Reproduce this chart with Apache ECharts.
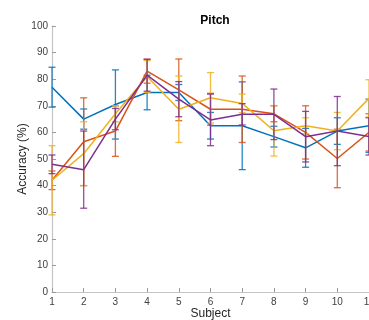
<!DOCTYPE html>
<html>
<head>
<meta charset="utf-8">
<script src="https://cdn.jsdelivr.net/npm/echarts@6/dist/echarts.min.js"></script>
<style>html,body{margin:0;padding:0;background:#fff}#c{width:369px;height:320px}</style>
</head>
<body>
<div id="c"></div>
<script>
var subjects = [1, 2, 3, 4, 5, 6, 7, 8, 9, 10, 11];
var blueMean   = [77, 65, 70.5, 75, 75, 62.5, 62.5, 58.4, 54.2, 60.5, 62.5];
var blueErr    = [7.5, 3.8, 13, 6.5, 3, 5, 16.5, 3.9, 7.3, 5, 10];
var orangeMean = [42, 56.5, 60.5, 83, 76, 68.7, 68.7, 67, 60, 50.2, 60];
var orangeErr  = [3.5, 16.5, 9.5, 4.5, 11.6, 6, 12.5, 3, 10, 11, 7];
var yellowMean = [42, 52, 67, 81, 68.7, 73, 70.9, 60.6, 62.5, 60.5, 72.8];
var yellowErr  = [13, 12, 3, 6, 12.5, 9.5, 3.5, 9.5, 3, 7, 7];
var purpleMean = [48, 46, 65, 81.5, 72.5, 64.7, 66.8, 66.8, 58.4, 60.5, 58.5];
var purpleErr  = [3.5, 14.5, 4, 6, 6.6, 9.7, 4, 9.5, 9.5, 13, 7];
var yTicks = [0, 10, 20, 30, 40, 50, 60, 70, 80, 90, 100];

var colors = ['#0072BD', '#D95319', '#EDB120', '#7E2F8E'];
var means = [blueMean, orangeMean, yellowMean, purpleMean];
var errs = [blueErr, orangeErr, yellowErr, purpleErr];

var series = [];
means.forEach(function (m, k) {
  var e = errs[k];
  var data = subjects.map(function (s, i) { return [s, m[i] - e[i], m[i] + e[i]]; });
  series.push({
    type: 'custom',
    z: 2 + k * 2,
    silent: true,
    clip: false,
    data: data,
    renderItem: function (params, api) {
      var x = api.value(0);
      var lo = api.coord([x, api.value(1)]);
      var hi = api.coord([x, api.value(2)]);
      var w = 3.5;
      var st = { stroke: colors[k], lineWidth: 1.3, opacity: 0.85 };
      return {
        type: 'group',
        children: [
          { type: 'line', shape: { x1: lo[0], y1: lo[1], x2: hi[0], y2: hi[1] }, style: st },
          { type: 'line', shape: { x1: lo[0] - w, y1: lo[1], x2: lo[0] + w, y2: lo[1] }, style: st },
          { type: 'line', shape: { x1: hi[0] - w, y1: hi[1], x2: hi[0] + w, y2: hi[1] }, style: st }
        ]
      };
    }
  });
  series.push({
    type: 'line',
    z: 3 + k * 2,
    silent: true,
    symbol: 'none',
    clip: false,
    data: subjects.map(function (s, i) { return [s, m[i]]; }),
    lineStyle: { color: colors[k], width: 1.5 }
  });
});

var chart = echarts.init(document.getElementById('c'));
chart.setOption({
  animation: false,
  backgroundColor: '#ffffff',
  title: {
    text: 'Pitch', left: 210, top: 10, textAlign: 'center',
    textStyle: { fontFamily: 'Liberation Sans, Arial, sans-serif', fontSize: 12, fontWeight: 'bold', color: '#000' }
  },
  grid: { left: 52, right: 0, top: 26, bottom: 28, containLabel: false, outerBoundsMode: 'none' },
  xAxis: {
    type: 'value', min: 1, max: 11, interval: 1,
    name: 'Subject', nameLocation: 'middle', nameGap: 16, nameMoveOverlap: false,
    nameTextStyle: { fontFamily: 'Liberation Sans, Arial, sans-serif', fontSize: 12, color: '#262626' },
    axisLine: { lineStyle: { color: '#c4c4c4', width: 1.2 } },
    axisTick: { inside: true, length: 4, lineStyle: { color: '#9a9a9a' } },
    axisLabel: { fontFamily: 'Liberation Sans, Arial, sans-serif', fontSize: 10, color: '#404040', margin: 5 },
    splitLine: { show: false }
  },
  yAxis: {
    type: 'value', min: 0, max: 100, interval: 10,
    name: 'Accuracy (%)', nameLocation: 'middle', nameGap: 23, nameMoveOverlap: false,
    nameTextStyle: { fontFamily: 'Liberation Sans, Arial, sans-serif', fontSize: 12, color: '#262626' },
    axisLine: { show: true, lineStyle: { color: '#c4c4c4', width: 1.2 } },
    axisTick: { show: true, inside: true, length: 4, lineStyle: { color: '#9a9a9a' } },
    axisLabel: {
      fontFamily: 'Liberation Sans, Arial, sans-serif', fontSize: 10, color: '#404040', margin: 4,
      formatter: function (v) { return yTicks.indexOf(v) >= 0 ? String(v) : ''; }
    },
    splitLine: { show: false }
  },
  series: series
});
</script>
</body>
</html>
